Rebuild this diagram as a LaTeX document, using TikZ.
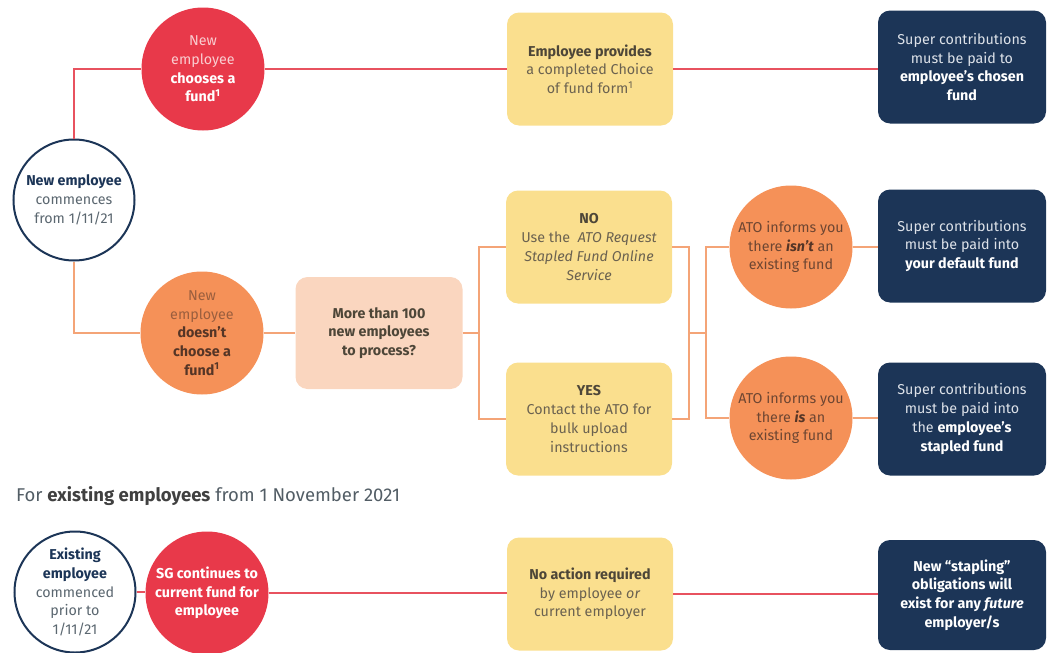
\documentclass[tikz,border=0pt]{standalone}
\usepackage{fontspec}
\setmainfont{Fira Sans}
\definecolor{cred}{HTML}{E8394A}
\definecolor{lred}{HTML}{E8525F}
\definecolor{cnavy}{HTML}{1C3557}
\definecolor{cyel}{HTML}{FADF8E}
\definecolor{cpeach}{HTML}{FAD6BF}
\definecolor{corange}{HTML}{F59158}
\definecolor{lorange}{HTML}{F4A477}
\definecolor{tgrey}{HTML}{5B6770}
\definecolor{ybold}{HTML}{4D4638}
\definecolor{ynorm}{HTML}{6B6250}
\definecolor{obold}{HTML}{553526}
\definecolor{onorm}{HTML}{9A5E3E}
\definecolor{anorm}{HTML}{6E4632}
\definecolor{pinkt}{HTML}{F9CDD0}
\definecolor{ntext}{HTML}{DDE2E9}
\begin{document}
\begin{tikzpicture}[x=1pt,y=-1pt,
  txt/.style={align=center,font=\fontsize{14.3}{18.7}\selectfont,inner sep=0pt},
  navycirc/.style={txt,circle,draw=cnavy,line width=2pt,fill=white,minimum size=121pt},
  redcirc/.style={txt,circle,fill=cred,text=white,minimum size=123pt},
  orcirc/.style={txt,circle,fill=corange,text=anorm,minimum size=123pt},
  ybox/.style={txt,rectangle,rounded corners=12pt,fill=cyel,text=ynorm,minimum width=166pt,minimum height=113pt},
  pbox/.style={txt,rectangle,rounded corners=12pt,fill=cpeach,text=ybold,minimum width=167pt,minimum height=112pt},
  nbox/.style={txt,rectangle,rounded corners=12pt,fill=cnavy,text=ntext,minimum width=168pt,minimum height=113pt},
  rline/.style={draw=lred,line width=2pt},
  oline/.style={draw=lorange,line width=2pt}]
\useasboundingbox (0,0) rectangle (1047,653);

% --- new employees: chooses fund
\node[navycirc,text=tgrey] (ne) at (74,200) {\textbf{\textcolor{cnavy}{New employee}}\\commences\\from 1/11/21};
\node[redcirc] (c1) at (203,69) {\textcolor{pinkt}{New}\\\textcolor{pinkt}{employee}\\\textbf{chooses a}\\\textbf{fund\textsuperscript{1}}};
\node[ybox] (y1) at (590,69) {\textbf{\textcolor{ybold}{Employee provides}}\\a completed Choice\\of fund form\textsuperscript{1}};
\node[nbox] (n1) at (962,67) {Super contributions\\must be paid to\\\textbf{\textcolor{white}{employee's chosen}}\\\textbf{\textcolor{white}{fund}}};

% --- new employees: doesn't choose
\node[orcirc,text=onorm] (c2) at (202,333) {New\\employee\\\textbf{\textcolor{obold}{doesn't}}\\\textbf{\textcolor{obold}{choose a}}\\\textbf{\textcolor{obold}{fund\textsuperscript{1}}}};
\node[pbox] (pk) at (379,333) {\textbf{More than 100}\\\textbf{new employees}\\\textbf{to process?}};
\node[ybox] (no) at (589,247) {\textbf{\textcolor{ybold}{NO}}\\Use the \ \textit{ATO Request}\\\textit{Stapled Fund Online}\\\textit{Service}};
\node[ybox] (yes) at (589,419) {\textbf{\textcolor{ybold}{YES}}\\Contact the ATO for\\bulk upload\\instructions};
\node[orcirc] (a1) at (791,247) {ATO informs you\\there \textbf{\textit{\textcolor{obold}{isn't}}} an\\existing fund};
\node[orcirc] (a2) at (791,418) {ATO informs you\\there \textbf{\textit{\textcolor{obold}{is}}} an\\existing fund};
\node[nbox] (n2) at (962,246) {Super contributions\\must be paid into\\\textbf{\textcolor{white}{your default fund}}};
\node[nbox] (n3) at (962,419) {Super contributions\\must be paid into\\the \textbf{\textcolor{white}{employee's}}\\\textbf{\textcolor{white}{stapled fund}}};

% --- existing employees
\node[txt,anchor=west,text=tgrey!90!black,font=\fontsize{18.5}{20}\selectfont] (hd) at (16,496) {For \textbf{\textcolor{black!75}{existing employees}} from 1 November 2021};
\node[navycirc,text=tgrey] (ex) at (75,592) {\textbf{\textcolor{cnavy}{Existing}}\\\textbf{\textcolor{cnavy}{employee}}\\commenced\\prior to\\1/11/21};
\node[redcirc] (c3) at (207,593) {\textbf{SG continues to}\\\textbf{current fund for}\\\textbf{employee}};
\node[ybox] (y3) at (590,594) {\textbf{\textcolor{ybold}{No action required}}\\by employee \textit{or}\\current employer};
\node[nbox,text=white,minimum height=110pt] (n4) at (962,595) {\textbf{New ``stapling''}\\\textbf{obligations will}\\\textbf{exist for any \textit{future}}\\\textbf{employer/s}};

% --- connectors
\coordinate (j1) at (479,333);
\coordinate (j2) at (689,333);
\coordinate (j3) at (706,333);
\draw[rline] (ne.north) |- (c1.west);
\draw[rline] (c1.east) -- (y1.west);
\draw[rline] (y1.east) -- (y1.east -| n1.west);
\draw[oline] (ne.south) |- (c2.west);
\draw[oline] (c2.east) -- (pk.west);
\draw[oline] (pk.east) -- (j1);
\draw[oline] (no.west) -| (j1) |- (yes.west);
\draw[oline] (no.east) -| (j2) |- (yes.east);
\draw[oline] (j2) -- (j3);
\draw[oline] (a1.west) -| (j3) |- (a2.west);
\draw[oline] (a1.east) -- (a1.east -| n2.west);
\draw[oline] (a2.east) -- (a2.east -| n3.west);
\draw[rline] (ex.east) -- (ex.east -| c3.west);
\draw[rline] (c3.east) -- (c3.east -| y3.west);
\draw[rline] (y3.east) -- (y3.east -| n4.west);
\end{tikzpicture}
\end{document}
